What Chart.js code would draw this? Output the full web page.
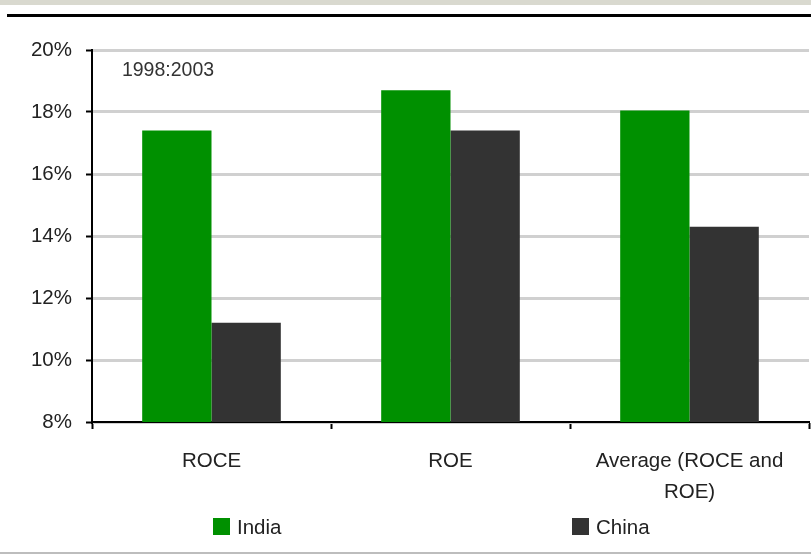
<!DOCTYPE html>
<html>
<head>
<meta charset="utf-8">
<script src="https://cdn.jsdelivr.net/npm/chart.js@4"></script>
<style>
  html, body { margin: 0; padding: 0; background: #fff; }
  #wrap { position: relative; width: 811px; height: 560px; }
</style>
</head>
<body>
<div id="wrap"><canvas id="returnsChart"></canvas></div>
<script>
const categories = ['ROCE', 'ROE', ['Average (ROCE and', 'ROE)']];
const seriesNames = ['India', 'China'];
const india = [17.4, 18.7, 18.05];
const china = [11.2, 17.4, 14.3];
const yTicks = [8, 10, 12, 14, 16, 18, 20];
const periodLabel = '1998:2003';

const FONT = '"Liberation Sans", Arial, sans-serif';
const FONT_SIZE = 20.5;
const colors = ['#009000', '#333333'];

// frame lines, period note and the legend row
const decor = {
  id: 'decor',
  beforeDraw(chart) {
    const { ctx, width } = chart;
    ctx.save();
    ctx.fillStyle = '#fff';
    ctx.fillRect(0, 0, width, chart.height);
    ctx.fillStyle = '#d9d9cf';
    ctx.fillRect(0, 0, width, 5);
    ctx.fillStyle = '#000';
    ctx.fillRect(7, 14, width - 7, 3);
    ctx.fillStyle = '#bdbdbd';
    ctx.fillRect(0, 552, width, 2);
    ctx.restore();
  },
  afterDraw(chart) {
    const { ctx } = chart;
    ctx.save();
    ctx.font = '19.5px ' + FONT;
    ctx.fillStyle = '#333';
    ctx.textAlign = 'center';
    ctx.textBaseline = 'middle';
    ctx.fillText(periodLabel, 168, 71);

    ctx.font = FONT_SIZE + 'px ' + FONT;
    const legendX = [213, 572];
    chart.data.datasets.forEach((ds, i) => {
      ctx.fillStyle = ds.backgroundColor;
      ctx.fillRect(legendX[i], 518, 17, 17);
      ctx.fillStyle = '#222';
      ctx.textAlign = 'left';
      ctx.fillText(ds.label, legendX[i] + 24, 528);
    });
    ctx.restore();
  }
};

new Chart(document.getElementById('returnsChart'), {
  type: 'bar',
  data: {
    labels: categories,
    datasets: [
      { label: seriesNames[0], data: india, backgroundColor: colors[0] },
      { label: seriesNames[1], data: china, backgroundColor: colors[1] },
    ],
  },
  options: {
    responsive: true,
    maintainAspectRatio: false,
    animation: false,
    layout: { padding: { left: 0, right: 2, top: 50, bottom: 0 } },
    plugins: { legend: { display: false }, tooltip: { enabled: false } },
    datasets: { bar: { categoryPercentage: 0.58, barPercentage: 1, borderWidth: 0 } },
    scales: {
      x: {
        offset: true,
        grid: { offset: true, drawOnChartArea: false, drawTicks: true, tickLength: 7, tickColor: '#000', tickWidth: 2 },
        border: { color: '#000', width: 2 },
        ticks: { color: '#222', font: { family: FONT, size: FONT_SIZE, lineHeight: 1.5 }, padding: 17, maxRotation: 0, autoSkip: false },
        afterFit(scale) { scale.height = 138; },
      },
      y: {
        min: yTicks[0],
        max: yTicks[yTicks.length - 1],
        afterBuildTicks(scale) { scale.ticks = yTicks.map((v) => ({ value: v })); },
        grid: { color: '#d0d0d0', lineWidth: 3, tickColor: '#000', tickLength: 6, tickWidth: 2 },
        border: { color: '#000', width: 2 },
        ticks: { color: '#222', font: { family: FONT, size: FONT_SIZE }, padding: 14, callback: (v) => v + '%' },
        afterFit(scale) { scale.width = 92; },
      },
    },
  },
  plugins: [decor],
});
</script>
</body>
</html>
